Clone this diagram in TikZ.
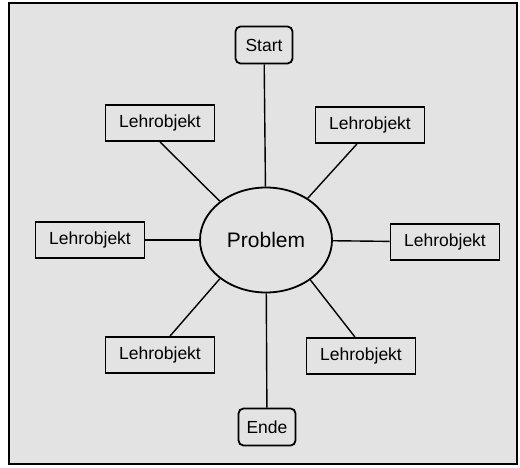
\documentclass[tikz,border=0pt]{standalone}
\usepackage{fontspec}
\setmainfont{Liberation Sans}
\usetikzlibrary{shapes.geometric}
\definecolor{paper}{gray}{0.89}
\tikzset{%
    lehr/.style={draw, line width=1.8pt, fill=paper, inner sep=0pt,
        minimum width=109pt, minimum height=36pt, font=\fontsize{17.5}{19}\selectfont},
    ends/.style={lehr, rounded corners=5pt, minimum width=57pt, minimum height=37pt},
    conn/.style={line width=1.4pt}
}
\begin{document}
\begin{tikzpicture}[x=1pt,y=-1pt]
    \useasboundingbox (0,0) rectangle (520,468);
    \draw[line width=1.5pt, fill=paper] (9,3) rectangle (517,464);
    \node[draw, ellipse, line width=1.8pt, fill=paper, minimum width=132pt, minimum height=105pt,
        font=\fontsize{21}{23}\selectfont] (problem) at (266,240) {Problem};
    \node[ends] (start) at (264,45) {Start};
    \node[ends] (ende) at (267,427) {Ende};
    \node[lehr] (lo1) at (160,123) {Lehrobjekt};
    \node[lehr] (lo2) at (370,125) {Lehrobjekt};
    \node[lehr] (lo3) at (90,240) {Lehrobjekt};
    \node[lehr] (lo4) at (445,242) {Lehrobjekt};
    \node[lehr] (lo5) at (160,355) {Lehrobjekt};
    \node[lehr] (lo6) at (361,356) {Lehrobjekt};
    \draw[conn] (start) -- (problem);
    \draw[conn] (problem) -- (ende);
    \draw[conn] (lo1.south) -- (problem.140);
    \draw[conn] ([xshift=-13pt]lo2.south) -- (problem.45);
    \draw[conn] (lo3) -- (problem);
    \draw[conn] (problem) -- (lo4);
    \draw[conn] ([xshift=10pt]lo5.north) -- (problem.220);
    \draw[conn] ([xshift=-6pt]lo6.north) -- (problem.318);
\end{tikzpicture}
\end{document}
